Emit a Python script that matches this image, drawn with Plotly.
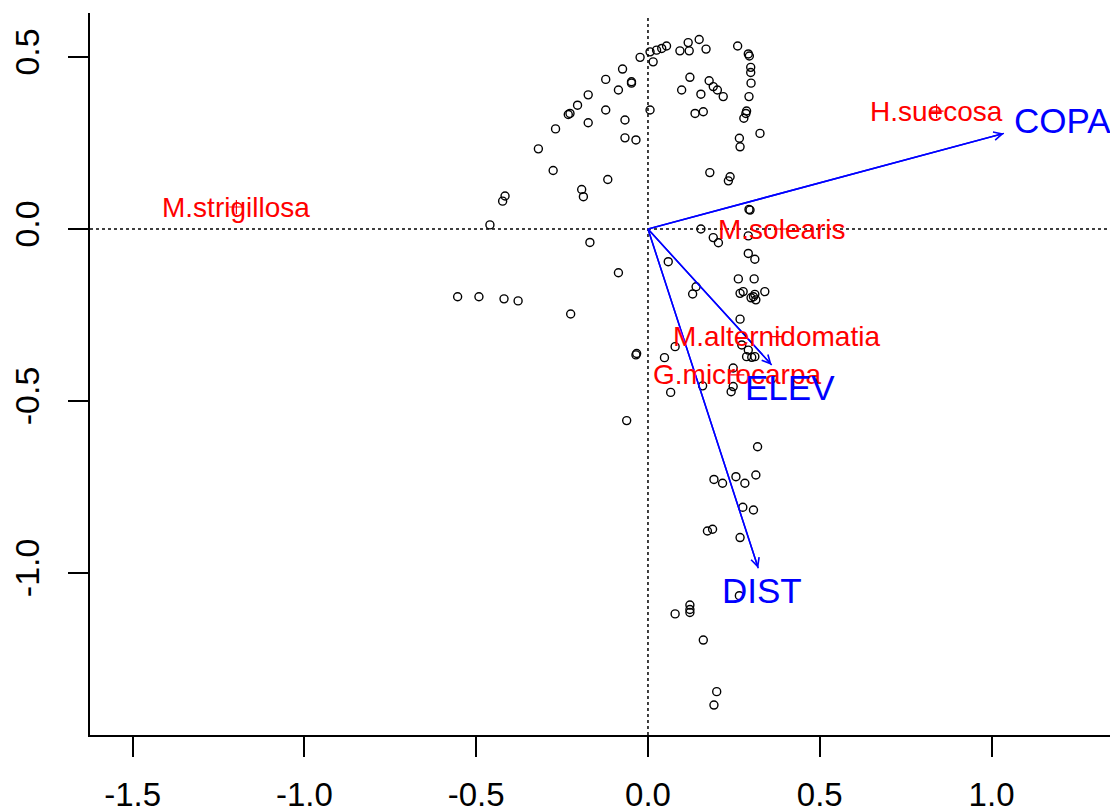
import plotly.graph_objects as go

# ---- site scores (open circles) ----
site_x = [-0.023, 0.006, 0.015, 0.025, 0.040, 0.054, 0.093, 0.117, 0.120, 0.149, 0.169,
          0.122, 0.098, 0.154, 0.178, 0.190, 0.202, 0.219, 0.137, 0.161,
          0.261, 0.292, 0.295, 0.299, 0.299, 0.300, 0.294, 0.287, 0.285, 0.279, 0.326, 0.266, 0.268,
          0.006,
          -0.074, -0.123, -0.048, -0.048, -0.086, -0.174, -0.205, -0.227, -0.232, -0.123, -0.174,
          -0.067, -0.269, -0.319, -0.067, -0.035, -0.276, -0.117, -0.193, -0.188, -0.416, -0.423, -0.460,
          0.180, 0.239, 0.234, 0.294, 0.297,
          -0.169, -0.086, 0.059, 0.154, 0.190, 0.205, 0.292, 0.292, 0.311, 0.263, 0.309, 0.140, 0.130,
          0.268, 0.277, 0.307, 0.314, 0.311, 0.340, 0.300,
          -0.554, -0.492, -0.419, -0.378, -0.225,
          0.268,
          0.273, 0.292, 0.287, 0.302, 0.311,
          0.079, 0.048, -0.035, -0.033,
          0.248, 0.248, 0.242, 0.159, 0.066, -0.062,
          0.319,
          0.192, 0.217, 0.256, 0.282, 0.314,
          0.276, 0.307, 0.173, 0.188, 0.268, 0.266,
          0.079, 0.122, 0.122, 0.122, 0.161, 0.200, 0.192]
site_y = [0.499, 0.515, 0.486, 0.520, 0.525, 0.532, 0.518, 0.542, 0.518, 0.551, 0.523,
          0.441, 0.404, 0.392, 0.431, 0.414, 0.404, 0.385, 0.336, 0.341,
          0.532, 0.509, 0.503, 0.470, 0.455, 0.424, 0.385, 0.343, 0.336, 0.322, 0.278, 0.264, 0.239,
          0.346,
          0.465, 0.435, 0.428, 0.424, 0.404, 0.390, 0.360, 0.336, 0.333, 0.346, 0.309,
          0.317, 0.291, 0.233, 0.265, 0.259, 0.170, 0.144, 0.115, 0.094, 0.096, 0.081, 0.012,
          0.164, 0.152, 0.140, 0.057, 0.055,
          -0.039, -0.127, -0.095, 0.000, -0.025, -0.040, -0.020, -0.071, -0.088, -0.145, -0.145, -0.168, -0.189,
          -0.187, -0.182, -0.197, -0.206, -0.190, -0.182, -0.200,
          -0.197, -0.197, -0.203, -0.209, -0.247,
          -0.262,
          -0.337, -0.352, -0.371, -0.373, -0.371,
          -0.342, -0.374, -0.366, -0.362,
          -0.404, -0.458, -0.473, -0.456, -0.475, -0.557,
          -0.633,
          -0.728, -0.739, -0.720, -0.739, -0.715,
          -0.809, -0.817, -0.878, -0.873, -0.897, -1.066,
          -1.119, -1.093, -1.106, -1.115, -1.195, -1.345, -1.384]

# ---- species scores (red) ----
species_names = ["H.suecosa", "M.strigillosa", "M.solearis", "M.alternidomatia", "G.microcarpa"]
species_x = [0.840, -1.198, 0.389, 0.375, 0.260]
species_y = [0.343, 0.064, 0.000, -0.313, -0.424]

# ---- environmental vectors (blue) ----
env_names = ["COPA", "ELEV", "DIST"]
env_x = [1.036, 0.360, 0.321]
env_y = [0.278, -0.395, -0.986]
env_label_x = [1.207, 0.413, 0.333]
env_label_y = [0.315, -0.461, -1.052]

# ---- axes ----
x_ticks = [-1.5, -1.0, -0.5, 0.0, 0.5, 1.0]
y_ticks = [-1.0, -0.5, 0.0, 0.5]
x_range = [-1.624, 1.368]
y_range = [-1.471, 0.628]

FONT = "Liberation Sans, Arial, sans-serif"
RED = "#FF0000"
BLUE = "#0000FF"

fig = go.Figure()

# dotted reference lines at 0
fig.add_trace(go.Scatter(x=[x_range[0], x_range[1]], y=[0, 0], mode="lines",
                         line=dict(color="black", width=1.5, dash="3px,3px"),
                         hoverinfo="skip", showlegend=False))
fig.add_trace(go.Scatter(x=[0, 0], y=[y_range[0], 0.617], mode="lines",
                         line=dict(color="black", width=1.5, dash="3px,3px"),
                         hoverinfo="skip", showlegend=False))

# sites
fig.add_trace(go.Scatter(x=site_x, y=site_y, mode="markers",
                         marker=dict(symbol="circle-open", size=8, color="black",
                                     line=dict(width=1.4, color="black")),
                         showlegend=False))

# environmental arrow shafts
for ex, ey in zip(env_x, env_y):
    fig.add_trace(go.Scatter(x=[0, ex], y=[0, ey], mode="lines",
                             line=dict(color=BLUE, width=1.5),
                             hoverinfo="skip", showlegend=False))
    fig.add_annotation(x=ex, y=ey, ax=0, ay=0, xref="x", yref="y", axref="x", ayref="y",
                       text="", showarrow=True, arrowhead=5, arrowsize=1.1,
                       arrowwidth=1.5, arrowcolor=BLUE)

# species crosses + labels
fig.add_trace(go.Scatter(x=species_x, y=species_y, mode="markers",
                         marker=dict(symbol="cross-thin", size=10,
                                     line=dict(width=1.2, color=RED)),
                         showlegend=False))
for name, sx, sy in zip(species_names, species_x, species_y):
    fig.add_annotation(x=sx, y=sy, text=name, showarrow=False,
                       xanchor="center", yanchor="middle",
                       font=dict(family=FONT, size=28, color=RED))

for name, lx, ly in zip(env_names, env_label_x, env_label_y):
    fig.add_annotation(x=lx, y=ly, text=name, showarrow=False,
                       xanchor="center", yanchor="middle",
                       font=dict(family=FONT, size=35, color=BLUE))

fig.update_layout(
    width=1110, height=804,
    margin=dict(l=82, r=0, t=5, b=77),
    paper_bgcolor="white", plot_bgcolor="white",
    showlegend=False,
    font=dict(family=FONT, color="black"),
    xaxis=dict(range=x_range, tickvals=x_ticks, ticktext=[f"{v:.1f}" for v in x_ticks],
               showgrid=False, zeroline=False, showline=True, linecolor="black", linewidth=1.5,
               ticks="outside", ticklen=20, tickwidth=1.5, tickcolor="black", automargin=False,
               tickfont=dict(size=33, family=FONT, color="black"), ticklabelstandoff=10),
    yaxis=dict(range=y_range, tickvals=y_ticks, ticktext=[f"{v:.1f}" for v in y_ticks],
               showgrid=False, zeroline=False, showline=True, linecolor="black", linewidth=1.5,
               ticks="outside", ticklen=20, tickwidth=1.5, tickcolor="black", tickangle=-90,
               automargin=False,
               tickfont=dict(size=34, family=FONT, color="black"), ticklabelstandoff=16),
)

fig.write_html("out.html")
